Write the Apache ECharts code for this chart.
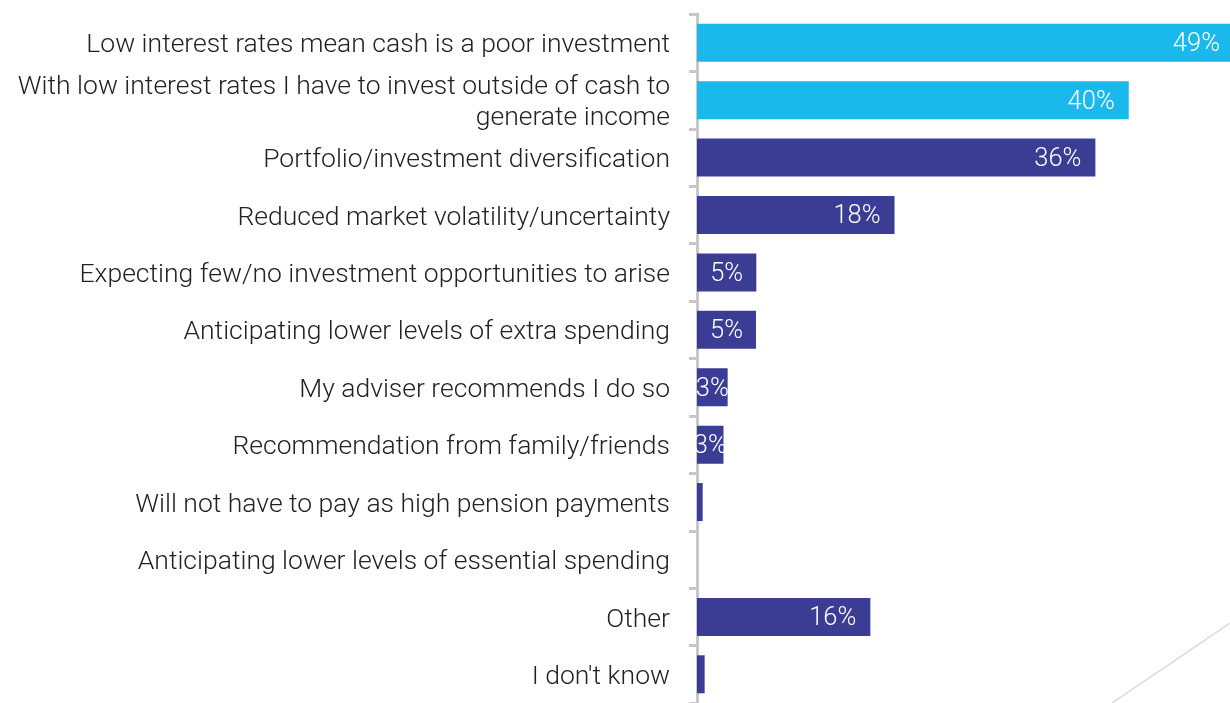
<!DOCTYPE html>
<html>
<head>
<meta charset="utf-8">
<script src="https://cdn.jsdelivr.net/npm/echarts@6/dist/echarts.min.js"></script>
<style>
  html, body { margin: 0; padding: 0; background: #fff; }
  #main { width: 1230px; height: 703px; }
</style>
</head>
<body>
<div id="main"></div>
<script>
// 类别、数值、标签
var categories = [
  'Low interest rates mean cash is a poor investment',
  'With low interest rates I have to invest outside of cash to\ngenerate income',
  'Portfolio/investment diversification',
  'Reduced market volatility/uncertainty',
  'Expecting few/no investment opportunities to arise',
  'Anticipating lower levels of extra spending',
  'My adviser recommends I do so',
  'Recommendation from family/friends',
  'Will not have to pay as high pension payments',
  'Anticipating lower levels of essential spending',
  'Other',
  "I don't know"
];
var values = [49, 39.45, 36.4, 18.05, 5.42, 5.39, 2.8, 2.42, 0.52, 0, 15.84, 0.7];
var valueLabels = ['49%', '40%', '36%', '18%', '5%', '5%', '3%', '3%', '', '', '16%', ''];
var highlighted = [true, true, false, false, false, false, false, false, false, false, false, false];

(function () {
  var chart = echarts.init(document.getElementById('main'));
  var font = 'Roboto, "Liberation Sans", sans-serif';
  var xMax = 48.7;

  var data = values.map(function (v, i) {
    var big = v >= 10;
    return {
      value: v,
      itemStyle: { color: highlighted[i] ? '#1bb8eb' : '#3b3d94' },
      label: {
        show: valueLabels[i] !== '',
        position: big ? 'insideRight' : 'inside',
        distance: v > xMax ? 10 : 14,
        formatter: valueLabels[i]
      }
    };
  });

  var option = {
    animation: false,
    grid: {
      left: 697,
      right: 0,
      top: 14,
      bottom: -3,
      containLabel: false
    },
    xAxis: {
      type: 'value',
      min: 0,
      max: xMax,
      show: false
    },
    yAxis: {
      type: 'category',
      inverse: true,
      data: categories,
      axisLine: {
        show: true,
        lineStyle: { color: '#c8c8c8', width: 3 }
      },
      axisTick: {
        show: true,
        length: 8,
        lineStyle: { color: '#c8c8c8', width: 3 }
      },
      axisLabel: {
        margin: 27,
        align: 'right',
        formatter: function (v) {
          return v.split('\n').map(function (s) { return '{t|' + s + '}'; }).join('\n');
        },
        rich: {
          t: {
            color: '#222',
            fontFamily: font,
            fontWeight: 300,
            fontSize: 26.5,
            lineHeight: 31,
            padding: [6, 0, 0, 0],
            align: 'right'
          }
        }
      }
    },
    series: [
      {
        type: 'bar',
        data: data,
        barWidth: 38,
        label: {
          color: '#fff',
          fontFamily: font,
          fontWeight: 300,
          fontSize: 25.5,
          offset: [0, 2]
        }
      }
    ],
    graphic: [
      {
        type: 'line',
        shape: { x1: 1230, y1: 623, x2: 1112, y2: 703 },
        style: { stroke: '#d9d9d9', lineWidth: 1.5 },
        silent: true
      }
    ]
  };

  chart.setOption(option);
  window.addEventListener('resize', function () {
    chart.resize();
  });
})();
</script>
</body>
</html>
